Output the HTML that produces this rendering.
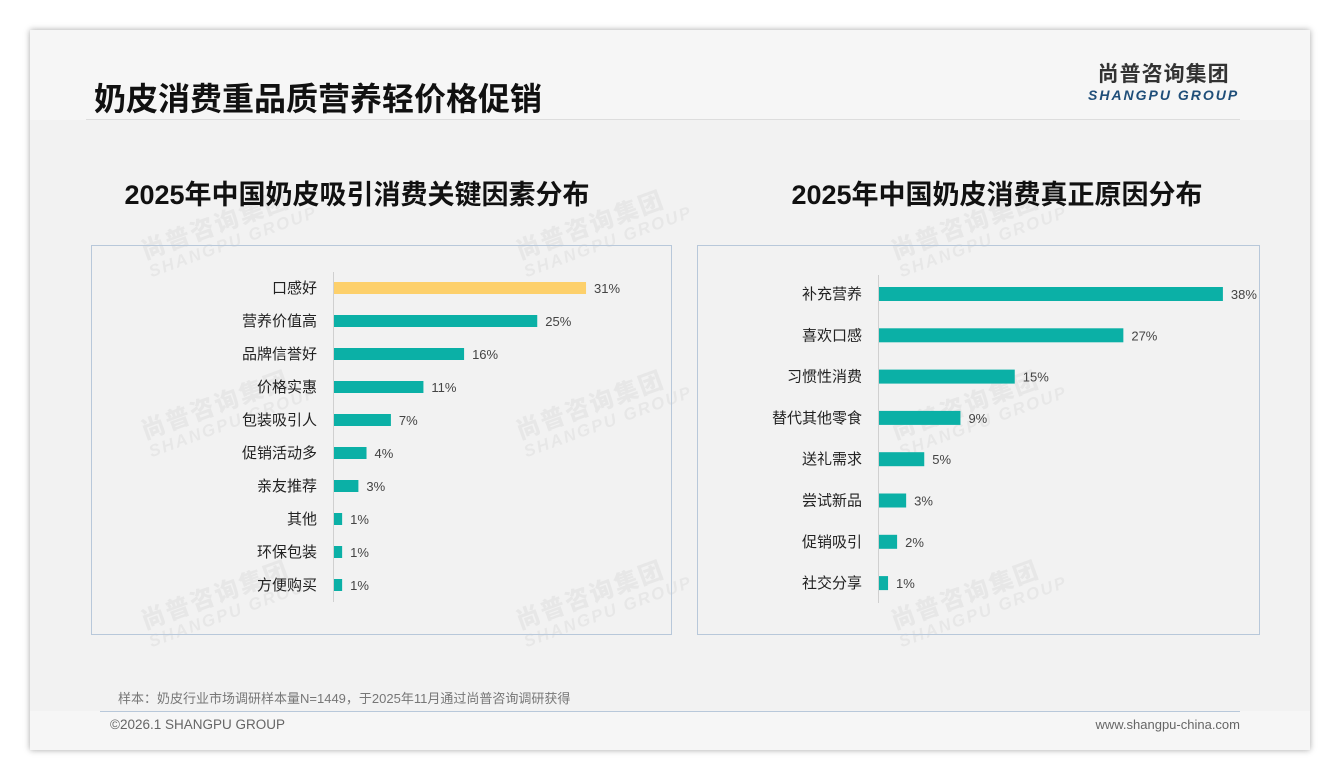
<!DOCTYPE html>
<html><head><meta charset="utf-8"><style>
body{margin:0;width:1340px;height:780px;background:#fff;font-family:"Liberation Sans","Noto Sans CJK SC",sans-serif;position:relative;overflow:hidden}
.card{position:absolute;left:30px;top:30px;width:1280px;height:720px;background:#f2f2f2;box-shadow:0 0 6px rgba(0,0,0,.35)}
.hdr{position:absolute;left:0;top:0;width:1280px;height:90px;background:#f6f6f6}
.ftr{position:absolute;left:0;top:681px;width:1280px;height:39px;background:#f6f6f6}
.abs{position:absolute;white-space:nowrap}
.wm{position:absolute;transform:rotate(-20deg);color:rgba(0,0,0,.045);font-weight:bold;line-height:1}
.wm b{display:block;font-size:24px;letter-spacing:2px}.wm i{display:block;font-size:17px;letter-spacing:2px}
</style></head><body>
<div class="card">
<div class="hdr"></div><div class="ftr"></div>
</div>
<div class="abs" style="left:94px;top:74px;font-size:32px;font-weight:bold;color:#111">奶皮消费重品质营养轻价格促销</div>
<div class="abs" style="left:86px;top:119px;width:1154px;height:1px;background:#ddd"></div>
<div class="abs" style="left:1088px;top:63px;text-align:center">
<div style="font-size:21px;font-weight:bold;color:#333;letter-spacing:1px;line-height:24px">尚普咨询集团</div>
<div style="font-size:14px;font-weight:bold;font-style:italic;color:#1f4e79;letter-spacing:2px;line-height:16px">SHANGPU GROUP</div></div>
<div class="abs" style="left:57px;width:600px;top:173px;text-align:center;font-size:27px;font-weight:bold;color:#111">2025年中国奶皮吸引消费关键因素分布</div>
<div class="abs" style="left:697px;width:600px;top:173px;text-align:center;font-size:27px;font-weight:bold;color:#111">2025年中国奶皮消费真正原因分布</div>
<div id="wms"></div>
<svg class="abs" style="left:0;top:0" width="1340" height="780" id="svg">
<rect x="91.5" y="245.5" width="580" height="389" fill="none" stroke="#b8c8da"/>
<rect x="697.5" y="245.5" width="562" height="389" fill="none" stroke="#b8c8da"/>
</svg>
<div class="abs" style="left:118px;top:688px;font-size:13px;color:#777">样本：奶皮行业市场调研样本量N=1449，于2025年11月通过尚普咨询调研获得</div>
<div class="abs" style="left:100px;top:711px;width:1140px;height:1px;background:#b8c8da"></div>
<div class="abs" style="left:110px;top:717px;font-size:13.5px;color:#666">©2026.1 SHANGPU GROUP</div>
<div class="abs" style="right:100px;top:717px;font-size:13px;color:#666">www.shangpu-china.com</div>
<script>
const leftCats=["口感好","营养价值高","品牌信誉好","价格实惠","包装吸引人","促销活动多","亲友推荐","其他","环保包装","方便购买"];
const leftVals=[31,25,16,11,7,4,3,1,1,1];
const rightCats=["补充营养","喜欢口感","习惯性消费","替代其他零食","送礼需求","尝试新品","促销吸引","社交分享"];
const rightVals=[38,27,15,9,5,3,2,1];
const NS="http://www.w3.org/2000/svg",svg=document.getElementById('svg');
function mk(t,a){const e=document.createElementNS(NS,t);for(const k in a)e.setAttribute(k,a[k]);svg.appendChild(e);return e;}
function chart(cats,vals,x0,pxPer,y0,step,bh,axTop,axBot,prefix,hl){
  const ax=mk('line',{x1:x0+.5,x2:x0+.5,y1:axTop,y2:axBot,stroke:'#d0d0d0'});
  
  
  const xs=v=>v*pxPer, ys=i=>y0+i*step;
  cats.forEach((c,i)=>{
    const y=ys(i);
    const r=mk('rect',{x:x0+1,y:y-bh/2,width:xs(vals[i]),height:bh,fill:i===hl?'#fdd06b':'#0bb0a6'});
    
    
    const l=mk('text',{x:x0-16,y:y+5,'text-anchor':'end','font-size':15,fill:'#222'});l.textContent=c;
    
    
    const v=mk('text',{x:x0+1+xs(vals[i])+8,y:y+5,'font-size':13,fill:'#444'});v.textContent=vals[i]+'%';
    
    
  });
}
chart(leftCats,leftVals,333,8.13,288,33,12,272,602,'left',0);
chart(rightCats,rightVals,878,9.05,294,41.3,14,275,603,'right',-1);
const wpos=[[140,210],[515,210],[890,210],[140,390],[515,390],[890,390],[140,580],[515,580],[890,580]];
const wc=document.getElementById('wms');
wpos.forEach(p=>{const d=document.createElement('div');d.className='wm';d.style.left=p[0]+'px';d.style.top=p[1]+'px';d.innerHTML='<b>尚普咨询集团</b><i>SHANGPU GROUP</i>';


wc.appendChild(d);});
</script>
</body></html>
